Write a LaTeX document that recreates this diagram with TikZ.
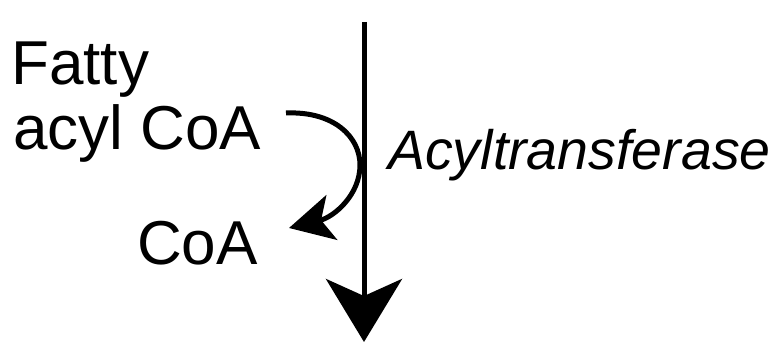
\documentclass[tikz,border=0pt]{standalone}
\usepackage{fontspec}
\setmainfont{Liberation Sans}
\usetikzlibrary{arrows.meta}

\begin{document}
\begin{tikzpicture}[x=1pt, y=1pt,
        lbl/.style={inner sep=0pt, anchor=base west, font=\fontsize{62}{74}\selectfont},
        enz/.style={inner sep=0pt, anchor=base west, font=\fontsize{55.5}{66}\selectfont\itshape},
        bigtip/.style={-{Stealth[length=63pt, width=76pt, inset=17pt]}},
        smalltip/.style={-{Stealth[length=44pt, width=46pt, inset=11pt]}}]
        \useasboundingbox (0,0) rectangle (772,345);
        % ==== LABELS ====
        \node[lbl] (fatty) at (11,260) {Fatty};
        \node[lbl] (acyl) at (13,195) {acyl CoA};
        \node[lbl] (coa) at (137,80) {CoA};
        \node[enz] (enzyme) at (388,175) {Acyltransferase};
        % ==== MAIN REACTION ARROW ====
        \coordinate (top) at (364,323);
        \coordinate (bottom) at (364,3);
        \draw[line width=5pt, bigtip] (top) -- (bottom);
        % ==== SIDE ARROW: FATTY ACYL CoA IN, CoA OUT ====
        \coordinate (in) at (286,232);
        \coordinate (out) at (289,117);
        \draw[line width=5pt, smalltip] (in) .. controls (334,234) and (360,208) .. (360,180)
            .. controls (360,150) and (334,128) .. (out);
     \end{tikzpicture}
\end{document}
